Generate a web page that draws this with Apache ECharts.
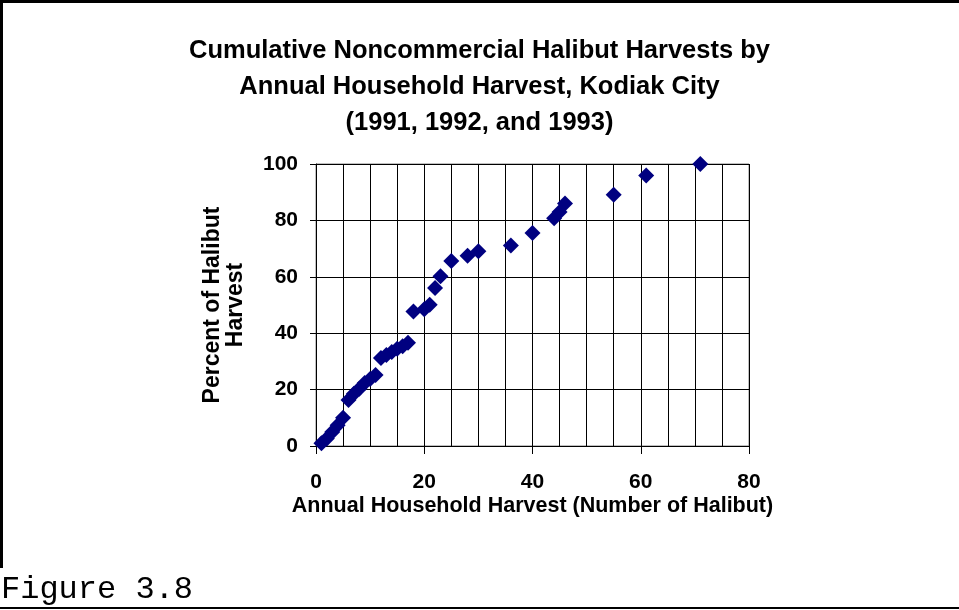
<!DOCTYPE html>
<html>
<head>
<meta charset="utf-8">
<script src="https://cdn.jsdelivr.net/npm/echarts@6/dist/echarts.min.js"></script>
<style>
html,body{margin:0;padding:0;background:#fff;}
#chart{width:959px;height:610px;}
</style>
</head>
<body>
<div id="chart"></div>
<script>
// Annual household harvest (number of halibut)
const harvestX = [1,2,3,4,5,6,7,8,9,10,11,12,13,14,15,16,17,18,20,21,22,23,25,28,30,36,40,44,45,46,55,61,71];
// Cumulative percent of halibut harvest
const cumulativePct = [1.0,2.7,5.0,7.4,10.0,16.3,18.5,20.3,22.3,23.8,25.2,31.2,32.3,33.3,34.5,35.4,36.6,47.7,48.5,50.1,56.0,60.2,65.6,67.5,69.1,71.1,75.5,80.8,83.0,86.0,89.1,95.9,100];
const titleLines = ['Cumulative Noncommercial Halibut Harvests by','Annual Household Harvest, Kodiak City','(1991, 1992, and 1993)'];
const xAxisName = 'Annual Household Harvest (Number of Halibut)';
const yAxisName = 'Percent of Halibut\nHarvest';
const figureLabel = 'Figure 3.8';

const points = harvestX.map((x, i) => [x, cumulativePct[i]]);
const FF = '"Liberation Sans", Arial, sans-serif';

const chart = echarts.init(document.getElementById('chart'), null, {renderer: 'canvas'});
chart.setOption({
  backgroundColor: '#fff',
  animation: false,
  title: {
    text: titleLines.join('\n'),
    left: 'center',
    top: 28,
    textStyle: {fontFamily: FF, fontWeight: 'bold', fontSize: 25.5, lineHeight: 36, color: '#000'}
  },
  grid: {left: 316, right: 210, top: 164, bottom: 164, show: true, borderColor: '#808080', borderWidth: 1, containLabel: false},
  xAxis: {
    type: 'value', min: 0, max: 80, interval: 20,
    name: xAxisName, nameLocation: 'middle', nameGap: 49,
    nameTextStyle: {fontFamily: FF, fontWeight: 'bold', fontSize: 21.5, color: '#000'},
    axisLine: {show: true, onZero: false, lineStyle: {color: '#000', width: 1}},
    axisTick: {show: true, length: 8, lineStyle: {color: '#000'}},
    minorTick: {show: false, splitNumber: 4},
    splitLine: {show: true, lineStyle: {color: '#000', width: 1}},
    minorSplitLine: {show: true, lineStyle: {color: '#000', width: 1}},
    axisLabel: {margin: 26, fontFamily: FF, fontWeight: 'bold', fontSize: 21, color: '#000'}
  },
  yAxis: {
    type: 'value', min: 0, max: 100, interval: 20,
    name: yAxisName, nameLocation: 'middle', nameGap: 69, nameRotate: 90,
    nameTextStyle: {fontFamily: FF, fontWeight: 'bold', fontSize: 23, lineHeight: 23, color: '#000', align: 'center'},
    axisLine: {show: true, onZero: false, lineStyle: {color: '#000', width: 1}},
    axisTick: {show: true, length: 6, lineStyle: {color: '#000'}},
    splitLine: {show: true, lineStyle: {color: '#000', width: 1}},
    axisLabel: {margin: 18, fontFamily: FF, fontWeight: 'bold', fontSize: 21, color: '#000'}
  },
  series: [{
    type: 'scatter',
    data: points,
    symbol: 'diamond',
    symbolSize: 16,
    itemStyle: {color: '#000080', opacity: 1},
    clip: false
  }],
  graphic: [
    {type: 'rect', shape: {x: 0, y: 0, width: 959, height: 3}, style: {fill: '#000'}, silent: true},
    {type: 'rect', shape: {x: 0, y: 0, width: 3, height: 568}, style: {fill: '#000'}, silent: true},
    {type: 'rect', shape: {x: 0, y: 607, width: 959, height: 2}, style: {fill: '#000'}, silent: true},
    {type: 'text', x: 1, y: 590, style: {text: figureLabel, font: '32px "Liberation Mono", "Courier New", monospace', fill: '#000', textAlign: 'left', textVerticalAlign: 'middle'}, silent: true}
  ]
});
</script>
</body>
</html>
